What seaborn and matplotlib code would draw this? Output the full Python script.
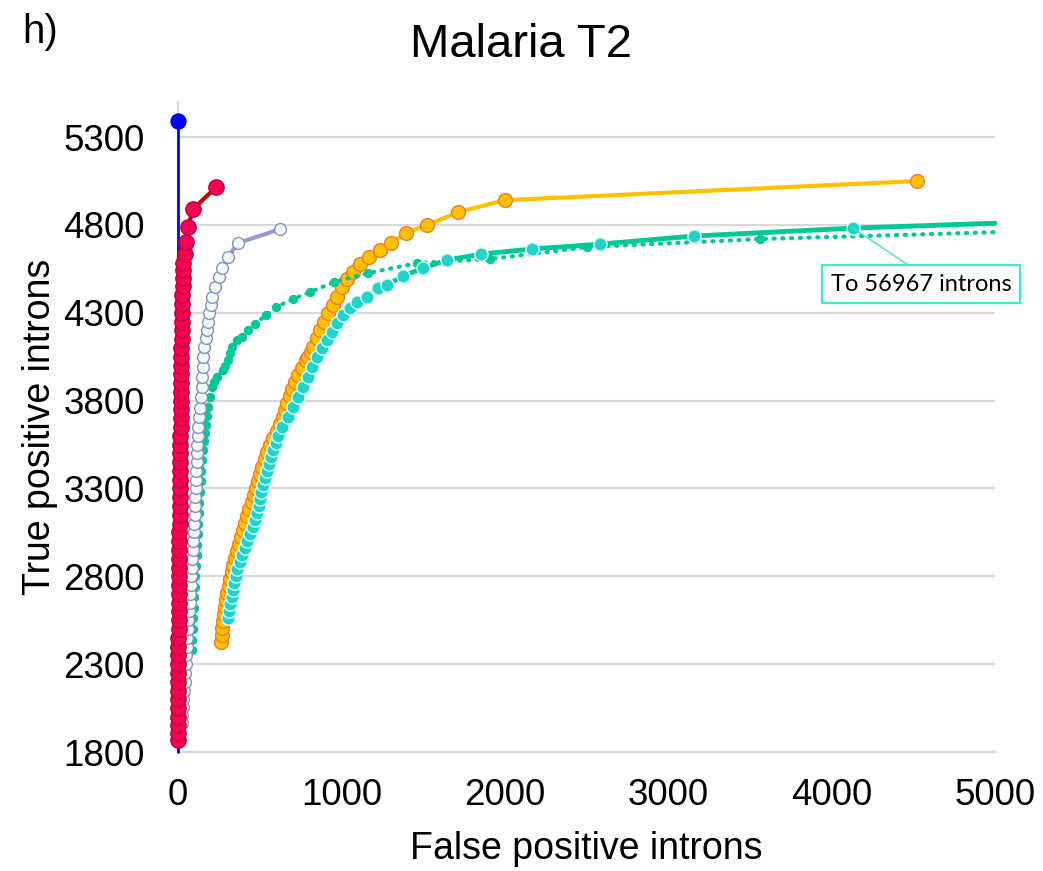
import matplotlib
matplotlib.use("Agg")
import matplotlib.pyplot as plt
import seaborn as sns

# ---------------- data ----------------
blue_x = [0, 0]
blue_y = [1800, 5391]

red_x = [0, 0, 0, 0,
         1, 1, 1, 2, 2, 2, 3, 3, 3, 4, 4, 5, 5, 6, 6, 7, 7, 8, 8, 9, 9, 10, 10, 11, 11, 12,
         12, 13, 13, 14, 14, 15, 16, 16, 17, 17, 18, 19, 19, 20, 21, 21, 22, 23, 24, 25,
         26, 27, 28, 29,
         31, 33, 40, 49, 61, 92, 233]
red_y = [1868, 1910, 1955, 2000,
         2050, 2100, 2150, 2200, 2250, 2300, 2350, 2400, 2450, 2500, 2550, 2600, 2650, 2700,
         2750, 2800, 2850, 2900, 2950, 3000, 3050, 3100, 3150, 3200, 3250, 3300, 3350, 3400,
         3450, 3500, 3550, 3600, 3650, 3700, 3750, 3800, 3850, 3900, 3950, 4000, 4050, 4100,
         4150, 4200, 4250, 4300, 4350, 4400, 4450, 4500,
         4545, 4583, 4634, 4702, 4788, 4890, 5015]

white_x = [24, 27, 30, 33, 37, 41, 45, 49, 52, 55, 58, 61, 64, 67, 71, 74, 77, 80, 83, 86,
           89, 92, 95, 98, 101, 104, 106, 108, 110, 112, 114, 116, 118, 121, 124, 128, 134,
           141, 144, 147, 150, 153, 159, 171, 177, 184, 190, 202, 208, 226, 251, 269, 306,
           367, 624]
white_y = [1965, 2010, 2055, 2100, 2150, 2200, 2250, 2300, 2350, 2400, 2450, 2500, 2550,
           2600, 2650, 2700, 2750, 2800, 2850, 2900, 2950, 3000, 3050, 3100, 3150, 3200,
           3250, 3300, 3350, 3400, 3450, 3500, 3550, 3600, 3650, 3706, 3760, 3820, 3880,
           3934, 3990, 4048, 4105, 4156, 4202, 4247, 4298, 4344, 4389, 4446, 4503, 4554,
           4617, 4697, 4776]

green_x = [86, 88, 90, 92, 95, 98, 102, 106, 110, 114, 117, 120, 123, 126, 130, 134, 138,
           142, 147, 151, 158, 165, 173, 178, 184, 195, 208, 222, 239, 275, 290, 306, 318,
           330, 361, 392, 428, 471, 539, 600, 704, 808, 955, 1163, 1463, 1909, 2503, 3562,
           5000]
green_y = [2380, 2440, 2500, 2560, 2620, 2680, 2740, 2800, 2860, 2920, 2980, 3040, 3100,
           3160, 3220, 3280, 3340, 3400, 3460, 3520, 3570, 3615, 3660, 3710, 3763, 3820,
           3877, 3905, 3934, 3974, 4000, 4031, 4070, 4105, 4145, 4162, 4202, 4236, 4287,
           4332, 4378, 4418, 4475, 4526, 4583, 4606, 4674, 4720, 4759]

orange_x = [263, 267, 272, 276, 281, 287, 294, 302, 311, 320, 330, 339, 349, 361, 373, 386,
            399, 412, 425, 437, 450, 463, 476, 489, 502, 516, 531, 547, 563, 583, 604, 626,
            641, 655, 669, 683, 699, 716, 734, 756,
            785, 796, 811, 826, 851, 869, 894, 918, 949, 973, 1004, 1034, 1071, 1114, 1169,
            1236, 1304, 1395, 1524, 1714, 2001, 4523]
orange_y = [2426, 2465, 2505, 2545, 2585, 2625, 2665, 2705, 2745, 2785, 2825, 2865, 2905,
            2945, 2985, 3025, 3065, 3105, 3145, 3185, 3225, 3265, 3305, 3345, 3385, 3425,
            3465, 3505, 3545, 3585, 3625, 3665, 3705, 3745, 3785, 3825, 3865, 3905, 3945,
            3985,
            4030, 4048, 4075, 4105, 4156, 4202, 4247, 4298, 4344, 4389, 4446, 4492, 4532,
            4577, 4617, 4657, 4697, 4754, 4799, 4873, 4941, 5050]

cyan_x = [306, 313, 320, 328, 336, 344, 353, 364, 377, 393, 408, 422, 438, 457, 469, 482,
          494, 500, 509, 522, 535, 545, 557, 570, 584, 597, 614, 636,
          673, 704, 734, 765, 796, 820, 851, 881, 912, 942, 973, 1010, 1053, 1095, 1157,
          1224, 1279, 1377, 1499, 1646, 1854, 2166, 2583, 3158, 4131, 5000]
cyan_y = [2562, 2600, 2640, 2680, 2720, 2760, 2800, 2840, 2880, 2920, 2960, 3000, 3040,
          3080, 3120, 3160, 3200, 3240, 3280, 3320, 3360, 3400, 3440, 3480, 3520, 3560,
          3600, 3649,
          3706, 3763, 3820, 3877, 3934, 3991, 4048, 4099, 4145, 4190, 4241, 4287, 4327,
          4361, 4389, 4441, 4458, 4509, 4554, 4600, 4634, 4663, 4691, 4737, 4782, 4810]

x_ticks = [0, 1000, 2000, 3000, 4000, 5000]
y_ticks = [1800, 2300, 2800, 3300, 3800, 4300, 4800, 5300]

title = "Malaria T2"
panel = "h)"
x_label = "False positive introns"
y_label = "True positive introns"
note = "To 56967 introns"

# ---------------- style ----------------
sns.set_style("white")
plt.rcParams["font.family"] = ["Liberation Sans", "DejaVu Sans"]
plt.rcParams["text.color"] = "black"
plt.rcParams["axes.labelcolor"] = "black"

W, H = 1043, 871
fig = plt.figure(figsize=(W / 100, H / 100), dpi=100)
L, R, T, B = 178, 995, 102, 752
ax = fig.add_axes([L / W, 1 - B / H, (R - L) / W, (B - T) / H])
ax.set_xlim(0, 5000)
ax.set_ylim(1800, 5500)

GRID = "#D9D9D9"
ax.set_yticks(y_ticks)
ax.set_xticks(x_ticks)
ax.yaxis.grid(True, color=GRID, lw=1.6, zorder=0)
ax.xaxis.grid(False)
ax.set_axisbelow(True)
for s in ["top", "right"]:
    ax.spines[s].set_visible(False)
for s in ["left", "bottom"]:
    ax.spines[s].set_color(GRID)
    ax.spines[s].set_linewidth(1.6)
    ax.spines[s].set_zorder(1)
ax.tick_params(axis="both", length=0, labelsize=26.5, colors="black")
ax.tick_params(axis="x", pad=19)
ax.tick_params(axis="y", pad=24)

common = dict(ax=ax, sort=False, estimator=None, clip_on=False, legend=False)

# blue
sns.lineplot(x=blue_x, y=blue_y, color="#0000FF", lw=2.0, marker="o", markersize=11,
             markerfacecolor="#0000FF", markeredgecolor="#0000FF", markevery=[1],
             zorder=3, **common)
# orange
sns.lineplot(x=orange_x, y=orange_y, color="#FFC000", lw=3, marker="o", markersize=10,
             markerfacecolor="#FFC000", markeredgecolor="#ED7D31", markeredgewidth=1.0,
             zorder=4, **common)
# green dotted
sns.lineplot(x=green_x, y=green_y, color="#00C896", lw=3, linestyle=(0, (0.3, 1.8)),
             dash_capstyle="round", marker="o", markersize=6,
             markerfacecolor="#00C896", markeredgecolor="#00C896",
             markevery=list(range(len(green_x) - 1)), zorder=5, **common)
# cyan markers on green solid line
sns.lineplot(x=cyan_x, y=cyan_y, color="#00C896", lw=3.5, marker="o", markersize=9.5,
             markerfacecolor="#22D3CC", markeredgecolor="#D5FFF2", markeredgewidth=1.0,
             markevery=list(range(len(cyan_x) - 1)), zorder=6, **common)
# white / lavender
sns.lineplot(x=white_x, y=white_y, color="#9A9AD2", lw=3, marker="o", markersize=8.5,
             markerfacecolor="#EEFBF1", markeredgecolor="#8C8CC6", markeredgewidth=1.0,
             zorder=7, **common)
# red
sns.lineplot(x=red_x, y=red_y, color="#C00000", lw=3, marker="o", markersize=11,
             markerfacecolor="#F50057", markeredgecolor="#C0002A", markeredgewidth=1.0,
             zorder=8, **common)

ax.set_xlabel(x_label, fontsize=27)
ax.set_ylabel(y_label, fontsize=27)
ax.xaxis.set_label_coords(0.5, -0.122)
ax.yaxis.set_label_coords(-0.147, 0.5)

fig.text(521 / W, 1 - 57 / H, title, ha="center", va="baseline", fontsize=34)
fig.text(22 / W, 1 - 43 / H, panel, ha="left", va="baseline", fontsize=29)

ax.annotate(note, xy=(cyan_x[-2], cyan_y[-2]), xytext=(921, H - 284),
            textcoords="figure pixels", ha="center", va="center",
            fontsize=17, family=["Lato", "DejaVu Sans"], annotation_clip=False,
            bbox=dict(boxstyle="square,pad=0.35", fc="white", ec="#3EEBC8", lw=1.6),
            arrowprops=dict(arrowstyle="-", color="#3EDFD0", lw=1.0, relpos=(0.5, 1.0),
                            shrinkA=0, shrinkB=0),
            zorder=9)

fig.savefig("out.png", dpi=100)
